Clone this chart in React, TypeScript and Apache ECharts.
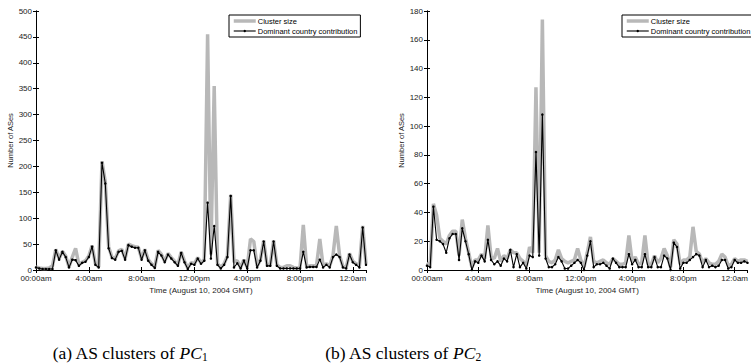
import React, { useEffect, useRef } from "react";
import * as echarts from "echarts";

const stepHours = 0.25;
const tickLabels = ["00:00am", "4:00am", "8:00am", "12:00pm", "4:00pm", "8:00pm", "12:0am"];
const seriesNames = ["Cluster size", "Dominant country contribution"];

const pc1Cluster = [
  6, 4, 3, 3, 4, 8, 40, 22, 36, 27,
  6, 25, 42, 10, 15, 18, 27, 47, 12, 6,
  210, 170, 45, 25, 22, 37, 40, 22, 50, 47,
  45, 44, 22, 40, 20, 12, 6, 38, 30, 17,
  32, 24, 17, 10, 35, 17, 4, 14, 12, 24,
  14, 20, 455, 30, 355, 12, 5, 12, 27, 145,
  15, 18, 5, 20, 5, 60, 55, 8, 20, 57,
  10, 10, 57, 10, 5, 5, 8, 8, 5, 4,
  4, 87, 7, 8, 8, 8, 60, 8, 12, 8,
  28, 85, 28, 7, 5, 32, 17, 12, 8, 85, 12,
];
const pc1Dominant = [
  5, 3, 2, 2, 2, 2, 38, 20, 35, 25,
  5, 20, 19, 8, 14, 16, 25, 45, 10, 5,
  207, 167, 42, 23, 20, 35, 37, 20, 48, 45,
  43, 43, 20, 38, 18, 10, 4, 35, 28, 15,
  30, 22, 15, 8, 33, 15, 2, 12, 10, 22,
  12, 18, 130, 22, 85, 10, 3, 10, 25, 143,
  5, 13, 3, 18, 3, 38, 38, 5, 18, 55,
  8, 8, 55, 8, 3, 3, 3, 3, 3, 3,
  3, 35, 5, 6, 6, 6, 20, 5, 10, 5,
  25, 30, 25, 5, 3, 30, 15, 10, 5, 82, 10,
];
const pc2Cluster = [
  5, 3, 46, 38, 22, 20, 18, 24, 27, 27,
  10, 35, 22, 12, 2, 7, 7, 11, 8, 31,
  9, 8, 15, 6, 10, 8, 14, 12, 12, 8,
  6, 3, 16, 12, 127, 12, 174, 10, 6, 5,
  7, 14, 8, 6, 5, 6, 7, 15, 7, 2,
  12, 23, 6, 5, 6, 7, 5, 4, 8, 6,
  4, 4, 5, 24, 6, 9, 4, 5, 24, 4,
  4, 10, 5, 8, 15, 10, 2, 21, 18, 4,
  7, 7, 9, 30, 13, 11, 5, 8, 5, 4,
  4, 6, 11, 9, 3, 4, 8, 6, 7, 7, 6,
];
const pc2Dominant = [
  3, 2, 44, 21, 20, 18, 12, 22, 25, 25,
  7, 29, 20, 11, 0, 6, 5, 10, 6, 21,
  7, 4, 6, 3, 8, 6, 14, 2, 11, 2,
  5, 1, 10, 9, 82, 10, 108, 8, 2, 2,
  4, 9, 6, 1, 1, 3, 5, 7, 5, 0,
  10, 20, 2, 4, 4, 5, 3, 1, 8, 5,
  2, 2, 2, 11, 4, 7, 2, 2, 11, 2,
  2, 9, 2, 2, 10, 8, 0, 19, 16, 1,
  5, 5, 7, 9, 11, 10, 2, 7, 2, 3,
  2, 3, 7, 7, 1, 2, 7, 5, 5, 6, 5,
];

const toPairs = (vals: number[]) => vals.map((v, i) => [i * stepHours, v]);

const axisFont = { fontFamily: "Liberation Sans", fontSize: 8, color: "#222" };

function buildAxes(gridIndex: number, yMax: number, yInterval: number) {
  const common = {
    gridIndex,
    axisLine: { show: true, lineStyle: { color: "#000", width: 1 } },
    axisTick: { show: true, inside: true, length: 3, lineStyle: { color: "#000" } },
    splitLine: { show: false },
  };
  const xBottom = {
    ...common,
    type: "value",
    position: "bottom",
    min: 0,
    max: 25,
    interval: 4,
    axisLabel: {
      ...axisFont,
      margin: 4,
      showMaxLabel: false,
      formatter: (v: number) => tickLabels[Math.round(v / 4)] ?? "",
    },
    name: "Time (August 10, 2004 GMT)",
    nameLocation: "middle",
    nameGap: 16,
    nameTextStyle: { fontFamily: "Liberation Sans", fontSize: 8, color: "#222" },
  };
  const xTop = {
    ...common,
    type: "value",
    position: "top",
    min: 0,
    max: 25,
    interval: 4,
    axisLabel: { show: false },
  };
  const yLeft = {
    ...common,
    type: "value",
    position: "left",
    min: 0,
    max: yMax,
    interval: yInterval,
    axisLabel: { ...axisFont, margin: 4 },
    name: "Number of ASes",
    nameLocation: "middle",
    nameGap: 22,
    nameTextStyle: { fontFamily: "Liberation Sans", fontSize: 7.5, color: "#222" },
  };
  const yRight = {
    ...common,
    type: "value",
    position: "right",
    min: 0,
    max: yMax,
    interval: yInterval,
    axisLabel: { show: false },
  };
  return { xs: [xBottom, xTop], ys: [yLeft, yRight] };
}

const grayLine = { color: "#b8b8b8", width: 3.5 };
const blackLine = { color: "#000", width: 1.1 };

function buildSeries(cluster: number[], dominant: number[]) {
  return [
    {
      name: seriesNames[0],
      type: "line",
      data: toPairs(cluster),
      symbol: "none",
      lineStyle: grayLine,
      itemStyle: { color: "#b8b8b8" },
      z: 2,
    },
    {
      name: seriesNames[1],
      type: "line",
      data: toPairs(dominant),
      symbol: "circle",
      symbolSize: 2.5,
      lineStyle: blackLine,
      itemStyle: { color: "#000" },
      z: 3,
    },
  ];
}

const legendText = { fontFamily: "Liberation Sans", fontSize: 7.5, color: "#000", padding: [0, 0, 0, -3] };

function buildLegend(left: number) {
  return {
    data: [
      { name: seriesNames[0], itemStyle: { opacity: 0 }, lineStyle: { ...grayLine, opacity: 1 }, textStyle: legendText },
      { name: seriesNames[1], itemStyle: { color: "#000", opacity: 1 }, lineStyle: { ...blackLine, opacity: 1 }, textStyle: legendText },
    ],
    orient: "vertical",
    left,
    top: 15,
    padding: [2, 3, 2, 3],
    itemGap: 2,
    itemWidth: 22,
    itemHeight: 3,
    backgroundColor: "#fff",
    borderColor: "#000",
    borderWidth: 1,
    borderRadius: 0,
    selectedMode: false,
    textStyle: legendText,
  };
}

function caption(x: number, letter: string, sub: string) {
  return {
    type: "text",
    x,
    y: 353,
    style: {
      text: `(${letter}) AS clusters of {i|PC}{s|${sub}}`,
      align: "center",
      verticalAlign: "middle",
      fontFamily: "Liberation Serif",
      fontSize: 17.5,
      fill: "#000",
      rich: {
        i: { fontFamily: "Liberation Serif", fontStyle: "italic", fontSize: 17.5 },
        s: { fontFamily: "Liberation Serif", fontSize: 11.5, padding: [7, 0, 0, 0] },
      },
    },
  };
}

export default function App() {
  const ref = useRef<HTMLDivElement>(null);
  useEffect(() => {
    document.body.style.margin = "0";
    if (!ref.current) return;
    const chart = echarts.init(ref.current, undefined, { renderer: "svg" });
    const a = buildAxes(0, 500, 50);
    const b = buildAxes(1, 180, 20);
    const option = {
      animation: false,
      backgroundColor: "#fff",
      grid: [
        { left: 36, top: 11, width: 330, height: 259 },
        { left: 427, top: 11, width: 327.5, height: 259 },
      ],
      xAxis: [a.xs[0], a.xs[1], b.xs[0], b.xs[1]],
      yAxis: [a.ys[0], a.ys[1], b.ys[0], b.ys[1]],
      legend: [buildLegend(229), buildLegend(622)],
      series: [
        ...buildSeries(pc1Cluster, pc1Dominant).map((s) => ({ ...s, xAxisIndex: 0, yAxisIndex: 0 })),
        ...buildSeries(pc2Cluster, pc2Dominant).map((s) => ({ ...s, xAxisIndex: 2, yAxisIndex: 2 })),
      ],
      graphic: [caption(130, "a", "1"), caption(403, "b", "2")],
    };
    chart.setOption(option as any);
    return () => chart.dispose();
  }, []);
  return <div ref={ref} style={{ width: 751, height: 363 }} />;
}
